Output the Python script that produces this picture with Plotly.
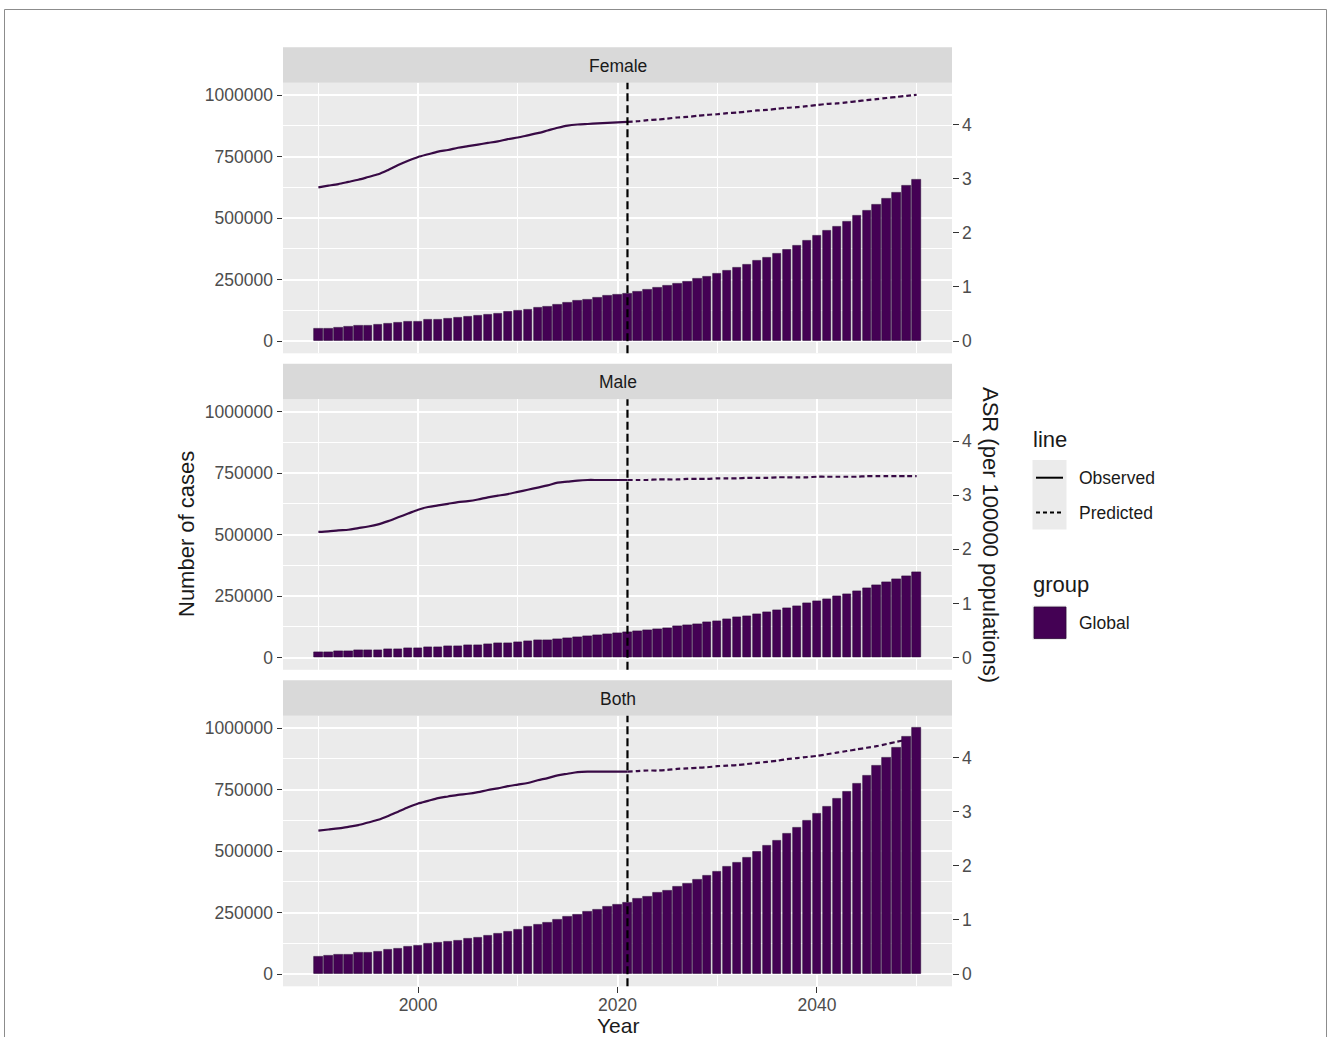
import plotly.graph_objects as go

W, H = 1328, 1037

# ---- data -------------------------------------------------------------
years = list(range(1990, 2051))
obs_years = list(range(1990, 2022))
pred_years = list(range(2021, 2051))
panels = ["Female", "Male", "Both"]

female_cases = [
    50100, 51500, 54000, 57000, 61000, 64000, 66000, 69000, 73000, 77000,
    80000, 85000, 88000, 92000, 95000, 100000, 104000, 108000, 112000, 118000,
    123000, 129000, 135000, 141000, 148000, 156000, 163000, 168000, 176000, 184000,
    188000, 194000,
    202000, 207000, 218000, 225000, 232000, 241000, 252000, 262000, 274000, 286000,
    297000, 310000, 325000, 340000, 356000, 371000, 389000, 408000, 428000, 447000,
    466000, 486000, 508000, 531000, 556000, 580000, 604000, 633000, 657000,
]
male_cases = [
    23000, 23500, 25500, 26500, 28000, 29000, 31000, 33000, 34500, 37000,
    39000, 41500, 43000, 45000, 47000, 49000, 51000, 54000, 57000, 60000,
    62000, 65000, 69000, 72000, 76000, 80000, 84000, 88000, 92000, 96000,
    99000, 103000,
    108000, 111000, 115000, 121000, 126000, 131000, 136000, 144000, 149000, 156000,
    164000, 169000, 175000, 186000, 192000, 202000, 210000, 220000, 229000, 238000,
    248000, 259000, 271000, 282000, 295000, 308000, 320000, 332000, 346000,
]
both_cases = [
    70000, 73000, 77000, 80000, 85000, 88000, 92000, 98000, 104000, 110000,
    114000, 122000, 126000, 131000, 137000, 145000, 149000, 157000, 165000, 172000,
    182000, 191000, 200000, 210000, 222000, 232000, 243000, 253000, 262000, 272000,
    280000, 290000,
    305000, 316000, 329000, 340000, 355000, 369000, 382000, 400000, 417000, 436000,
    454000, 473000, 497000, 520000, 543000, 569000, 595000, 622000, 652000, 680000,
    711000, 743000, 774000, 808000, 846000, 879000, 920000, 963000, 1000000,
]

female_asr_obs = [
    2.84, 2.87, 2.90, 2.94, 2.98, 3.03, 3.08, 3.16, 3.25, 3.33,
    3.40, 3.45, 3.50, 3.53, 3.57, 3.60, 3.63, 3.66, 3.69, 3.73,
    3.76, 3.80, 3.84, 3.89, 3.94, 3.98, 4.00, 4.01, 4.02, 4.03,
    4.04, 4.05,
]
female_asr_pred = [
    4.05, 4.06, 4.08, 4.09, 4.11, 4.13, 4.14, 4.16, 4.18, 4.19,
    4.21, 4.22, 4.24, 4.26, 4.27, 4.29, 4.31, 4.32, 4.34, 4.36,
    4.38, 4.39, 4.41, 4.43, 4.45, 4.47, 4.49, 4.51, 4.53, 4.55,
]
male_asr_obs = [
    2.32, 2.33, 2.35, 2.36, 2.39, 2.42, 2.46, 2.52, 2.59, 2.66,
    2.73, 2.78, 2.81, 2.84, 2.87, 2.89, 2.92, 2.96, 2.99, 3.02,
    3.06, 3.10, 3.14, 3.18, 3.23, 3.25, 3.27, 3.28, 3.28, 3.28,
    3.28, 3.28,
]
male_asr_pred = [
    3.28, 3.28, 3.28, 3.29, 3.29, 3.29, 3.30, 3.30, 3.30, 3.31,
    3.31, 3.31, 3.32, 3.32, 3.32, 3.33, 3.33, 3.33, 3.33, 3.34,
    3.34, 3.34, 3.34, 3.34, 3.35, 3.35, 3.35, 3.35, 3.35, 3.35,
]
both_asr_obs = [
    2.65, 2.67, 2.69, 2.72, 2.75, 2.80, 2.85, 2.92, 3.00, 3.08,
    3.15, 3.20, 3.25, 3.28, 3.31, 3.33, 3.36, 3.40, 3.43, 3.47,
    3.50, 3.53, 3.58, 3.62, 3.67, 3.70, 3.73, 3.74, 3.74, 3.74,
    3.74, 3.74,
]
both_asr_pred = [
    3.74, 3.75, 3.76, 3.76, 3.77, 3.79, 3.80, 3.81, 3.82, 3.84,
    3.85, 3.86, 3.88, 3.90, 3.92, 3.94, 3.97, 3.99, 4.01, 4.03,
    4.06, 4.09, 4.12, 4.15, 4.18, 4.21, 4.25, 4.29, 4.33, 4.38,
]

cases_by_panel = [female_cases, male_cases, both_cases]
asr_obs_by_panel = [female_asr_obs, male_asr_obs, both_asr_obs]
asr_pred_by_panel = [female_asr_pred, male_asr_pred, both_asr_pred]

cut_year = 2021
cases_ticks = [0, 250000, 500000, 750000, 1000000]
cases_minor = [125000, 375000, 625000, 875000]
asr_ticks = [0, 1, 2, 3, 4]
year_ticks = [2000, 2020, 2040]
year_minor = [1990, 2010, 2030, 2050]

# secondary-axis scale: cases per ASR unit
SCALE = 220000
CASES_RANGE = [-50000, 1050000]
ASR_RANGE = [CASES_RANGE[0] / SCALE, CASES_RANGE[1] / SCALE]
YEAR_RANGE = [1986.45, 2053.55]

# ---- styling ------------------------------------------------------------
FONT = "Liberation Sans, Arial, sans-serif"
PURPLE = "#440154"
LINE_COL = "#380a45"
PANEL_BG = "#ebebeb"
STRIP_BG = "#d9d9d9"
TICK_COL = "#4d4d4d"
TEXT_COL = "#1a1a1a"


def px_x(p):
    return p / W


def px_y(p):
    return 1 - p / H


PANEL_X = (283, 952)
PANEL_Y = [(82.7, 353.3), (399.2, 669.8), (715.7, 986.3)]
STRIP_H = 35.5

fig = go.Figure()
shapes = []
annotations = []
layout = {}

for i, name in enumerate(panels):
    xname = "x" if i == 0 else f"x{i + 1}"
    base_n = 2 * i + 1          # ASR axis (right side)
    over_n = 2 * i + 2          # cases axis (left side)
    base_y = "y" if base_n == 1 else f"y{base_n}"
    over_y = f"y{over_n}"
    top, bot = PANEL_Y[i]
    dom_y = [px_y(bot), px_y(top)]
    bottom_panel = i == len(panels) - 1

    # ASR lines: observed (solid) and predicted (dashed)
    fig.add_trace(go.Scatter(
        x=obs_years, y=asr_obs_by_panel[i], mode="lines",
        line=dict(color=LINE_COL, width=2.2, shape="spline", smoothing=0.8,
                  simplify=False),
        xaxis=xname, yaxis=base_y, showlegend=False, hoverinfo="skip"))
    fig.add_trace(go.Scatter(
        x=pred_years, y=asr_pred_by_panel[i], mode="lines",
        line=dict(color=LINE_COL, width=2.2, dash="5px,3px", shape="spline",
                  smoothing=0.8, simplify=False),
        xaxis=xname, yaxis=base_y, showlegend=False, hoverinfo="skip"))
    # case counts as bars
    fig.add_trace(go.Bar(
        x=years, y=cases_by_panel[i], width=0.85,
        marker=dict(color=PURPLE, line=dict(color="#2e0a3a", width=0.6)),
        xaxis=xname, yaxis=over_y, showlegend=False, hoverinfo="skip"))

    layout[f"xaxis{'' if i == 0 else i + 1}"] = dict(
        domain=[px_x(PANEL_X[0]), px_x(PANEL_X[1])], range=YEAR_RANGE,
        anchor=base_y, tickvals=year_ticks,
        showticklabels=bottom_panel, ticks="outside" if bottom_panel else "",
        ticklen=5.5, tickwidth=1.1, tickcolor="#333333",
        ticklabelstandoff=-3,
        tickfont=dict(family=FONT, size=17.5, color=TICK_COL),
        showgrid=True, gridcolor="white", gridwidth=1.6,
        minor=dict(tickvals=year_minor, showgrid=True, gridcolor="white",
                   gridwidth=0.8, ticks=""),
        zeroline=False, showline=False, fixedrange=True)
    layout[f"yaxis{'' if base_n == 1 else base_n}"] = dict(
        domain=dom_y, range=ASR_RANGE, anchor=xname, side="right",
        tickvals=asr_ticks, ticks="outside", ticklen=5.5, tickwidth=1.1,
        tickcolor="#333333",
        tickfont=dict(family=FONT, size=17.5, color=TICK_COL),
        showgrid=False, zeroline=False, showline=False, fixedrange=True)
    layout[f"yaxis{over_n}"] = dict(
        domain=dom_y, range=CASES_RANGE, anchor=xname, side="left",
        overlaying=base_y, tickvals=cases_ticks, tickformat="d",
        ticks="outside", ticklen=5.5, tickwidth=1.1, tickcolor="#333333",
        tickfont=dict(family=FONT, size=17.5, color=TICK_COL),
        showgrid=True, gridcolor="white", gridwidth=1.6,
        minor=dict(tickvals=cases_minor, showgrid=True, gridcolor="white",
                   gridwidth=0.8, ticks=""),
        zeroline=False, showline=False, fixedrange=True)

    # facet strip
    shapes.append(dict(
        type="rect", xref="paper", yref="paper",
        x0=px_x(PANEL_X[0]), x1=px_x(PANEL_X[1]),
        y0=px_y(top), y1=px_y(top - STRIP_H),
        fillcolor=STRIP_BG, line=dict(width=0), layer="below"))
    annotations.append(dict(
        text=name, xref="paper", yref="paper",
        x=px_x((PANEL_X[0] + PANEL_X[1]) / 2), y=px_y(top - STRIP_H / 2 + 0.8),
        showarrow=False, xanchor="center", yanchor="middle",
        font=dict(family=FONT, size=17.5, color=TEXT_COL)))

    # observed / predicted cut-off
    shapes.append(dict(
        type="line", xref=xname, yref=f"{base_y} domain",
        x0=cut_year, x1=cut_year, y0=0, y1=1,
        line=dict(color="black", width=2.2, dash="8px,4px"), layer="above"))

# axis titles
annotations.append(dict(
    text="Number of cases", xref="paper", yref="paper",
    x=px_x(186), y=px_y(534), textangle=-90, showarrow=False,
    xanchor="center", yanchor="middle",
    font=dict(family=FONT, size=22, color=TEXT_COL)))
annotations.append(dict(
    text="ASR (per 100000 populations)", xref="paper", yref="paper",
    x=px_x(991), y=px_y(535), textangle=90, showarrow=False,
    xanchor="center", yanchor="middle",
    font=dict(family=FONT, size=22, color=TEXT_COL)))
annotations.append(dict(
    text="Year", xref="paper", yref="paper",
    x=px_x(617.5), y=px_y(1025), showarrow=False,
    xanchor="center", yanchor="middle",
    font=dict(family=FONT, size=21, color=TEXT_COL)))

# legend: line type
LEG_X0, LEG_X1 = 1032.5, 1066.5
annotations.append(dict(
    text="line", xref="paper", yref="paper", x=px_x(1031), y=px_y(439),
    showarrow=False, xanchor="left", yanchor="middle",
    font=dict(family=FONT, size=22, color=TEXT_COL)))
shapes.append(dict(
    type="rect", xref="paper", yref="paper",
    x0=px_x(LEG_X0), x1=px_x(LEG_X1), y0=px_y(460), y1=px_y(529.5),
    fillcolor="#ebebeb", line=dict(width=0)))
shapes.append(dict(
    type="line", xref="paper", yref="paper",
    x0=px_x(1036), x1=px_x(1063), y0=px_y(477.7), y1=px_y(477.7),
    line=dict(color="black", width=2)))
shapes.append(dict(
    type="line", xref="paper", yref="paper",
    x0=px_x(1036), x1=px_x(1063), y0=px_y(512.5), y1=px_y(512.5),
    line=dict(color="black", width=2, dash="4px,3px")))
for label, yy in [("Observed", 477.7), ("Predicted", 512.5)]:
    annotations.append(dict(
        text=label, xref="paper", yref="paper", x=px_x(1077), y=px_y(yy),
        showarrow=False, xanchor="left", yanchor="middle",
        font=dict(family=FONT, size=17.5, color=TEXT_COL)))

# legend: group
annotations.append(dict(
    text="group", xref="paper", yref="paper", x=px_x(1031), y=px_y(584),
    showarrow=False, xanchor="left", yanchor="middle",
    font=dict(family=FONT, size=22, color=TEXT_COL)))
shapes.append(dict(
    type="rect", xref="paper", yref="paper",
    x0=px_x(LEG_X0), x1=px_x(LEG_X1), y0=px_y(605.5), y1=px_y(640),
    fillcolor="#ebebeb", line=dict(width=0)))
shapes.append(dict(
    type="rect", xref="paper", yref="paper",
    x0=px_x(1034), x1=px_x(1066), y0=px_y(607), y1=px_y(638.5),
    fillcolor=PURPLE, line=dict(color="#2e0a3a", width=0.8)))
annotations.append(dict(
    text="Global", xref="paper", yref="paper", x=px_x(1077), y=px_y(622.7),
    showarrow=False, xanchor="left", yanchor="middle",
    font=dict(family=FONT, size=17.5, color=TEXT_COL)))

# outer frame
shapes.append(dict(
    type="rect", xref="paper", yref="paper",
    x0=px_x(4.5), x1=px_x(1326.5), y0=-0.05, y1=px_y(9.5),
    line=dict(color="#8c8c8c", width=1), fillcolor="rgba(0,0,0,0)"))

fig.update_layout(
    width=W, height=H, margin=dict(l=0, r=0, t=0, b=0, pad=0),
    paper_bgcolor="white", plot_bgcolor=PANEL_BG,
    showlegend=False, barmode="overlay", bargap=0,
    font=dict(family=FONT, color=TEXT_COL),
    shapes=shapes, annotations=annotations, **layout)

fig.write_html("out.html", config={"displayModeBar": False})
